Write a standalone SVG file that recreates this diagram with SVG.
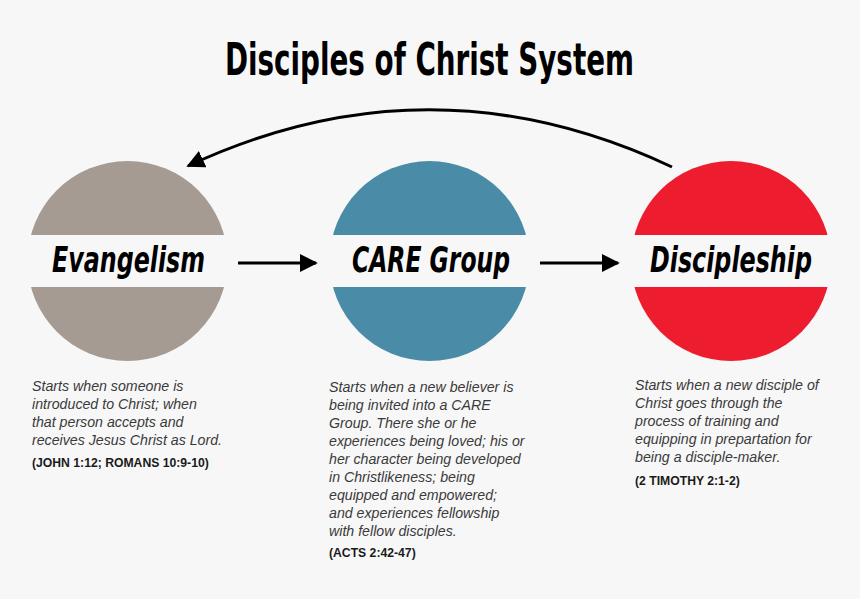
<svg xmlns="http://www.w3.org/2000/svg" width="860" height="599" viewBox="0 0 860 599">
<defs>
<marker id="ah" viewBox="0 0 10 10" refX="9" refY="5" markerWidth="6" markerHeight="6" markerUnits="strokeWidth" orient="auto">
<path d="M0,0 L10,5 L0,10 z" fill="#000"/>
</marker>
</defs>
<style>
.title{font-family:"Liberation Sans Narrow","DejaVu Sans Condensed","Liberation Sans",sans-serif;font-weight:bold;font-size:44px;fill:#000}
.lbl{font-family:"DejaVu Sans Condensed","Liberation Sans Narrow","Liberation Sans",sans-serif;font-weight:bold;font-style:italic;font-size:35px;fill:#000}
.band{fill:#f7f7f7}
.desc{font-family:"Liberation Sans",Arial,sans-serif;font-style:italic;font-size:14.2px;fill:#3a3a3a}
.ref{font-family:"Liberation Sans",Arial,sans-serif;font-weight:bold;font-size:12.2px;fill:#1a1a1a}
.conn{stroke:#000;stroke-width:3;fill:none}
</style>
<rect width="860" height="599" fill="#f7f7f7"/>
<text class="title" x="429.5" y="75" text-anchor="middle" textLength="409" lengthAdjust="spacingAndGlyphs">Disciples of Christ System</text>

<g id="connectors">
<path class="conn" d="M672,167 Q430,53 188,166" marker-end="url(#ah)"/>
<line class="conn" x1="238" y1="263" x2="316" y2="263" marker-end="url(#ah)"/>
<line class="conn" x1="540" y1="263" x2="618" y2="263" marker-end="url(#ah)"/>
</g>

<g id="evangelism">
<circle cx="127.5" cy="261" r="100" fill="#a69b93"/>
<rect class="band" x="20" y="235" width="215" height="52"/>
<text class="lbl" x="128.5" y="272" text-anchor="middle" textLength="153" lengthAdjust="spacingAndGlyphs">Evangelism</text>
<text class="desc" x="32" y="391">Starts when someone is</text>
<text class="desc" x="32" y="409">introduced to Christ; when</text>
<text class="desc" x="32" y="427">that person accepts and</text>
<text class="desc" x="32" y="445">receives Jesus Christ as Lord.</text>
<text class="ref" x="32" y="467">(JOHN 1:12; ROMANS 10:9-10)</text>
</g>

<g id="care-group">
<circle cx="429.5" cy="261" r="100" fill="#4a8ca8"/>
<rect class="band" x="322" y="235" width="215" height="52"/>
<text class="lbl" x="431" y="272" text-anchor="middle" textLength="158" lengthAdjust="spacingAndGlyphs">CARE Group</text>
<text class="desc" x="329" y="392">Starts when a new believer is</text>
<text class="desc" x="329" y="410">being invited into a CARE</text>
<text class="desc" x="329" y="428">Group. There she or he</text>
<text class="desc" x="329" y="446">experiences being loved; his or</text>
<text class="desc" x="329" y="464">her character being developed</text>
<text class="desc" x="329" y="482">in Christlikeness; being</text>
<text class="desc" x="329" y="500">equipped and empowered;</text>
<text class="desc" x="329" y="518">and experiences fellowship</text>
<text class="desc" x="329" y="536">with fellow disciples.</text>
<text class="ref" x="329" y="557">(ACTS 2:42-47)</text>
</g>

<g id="discipleship">
<circle cx="731" cy="261" r="100" fill="#ed1c2e"/>
<rect class="band" x="624" y="235" width="215" height="52"/>
<text class="lbl" x="731" y="272" text-anchor="middle" textLength="162" lengthAdjust="spacingAndGlyphs">Discipleship</text>
<text class="desc" x="635" y="390">Starts when a new disciple of</text>
<text class="desc" x="635" y="408">Christ goes through the</text>
<text class="desc" x="635" y="426">process of training and</text>
<text class="desc" x="635" y="444">equipping in prepartation for</text>
<text class="desc" x="635" y="462">being a disciple-maker.</text>
<text class="ref" x="635" y="485">(2 TIMOTHY 2:1-2)</text>
</g>
</svg>
